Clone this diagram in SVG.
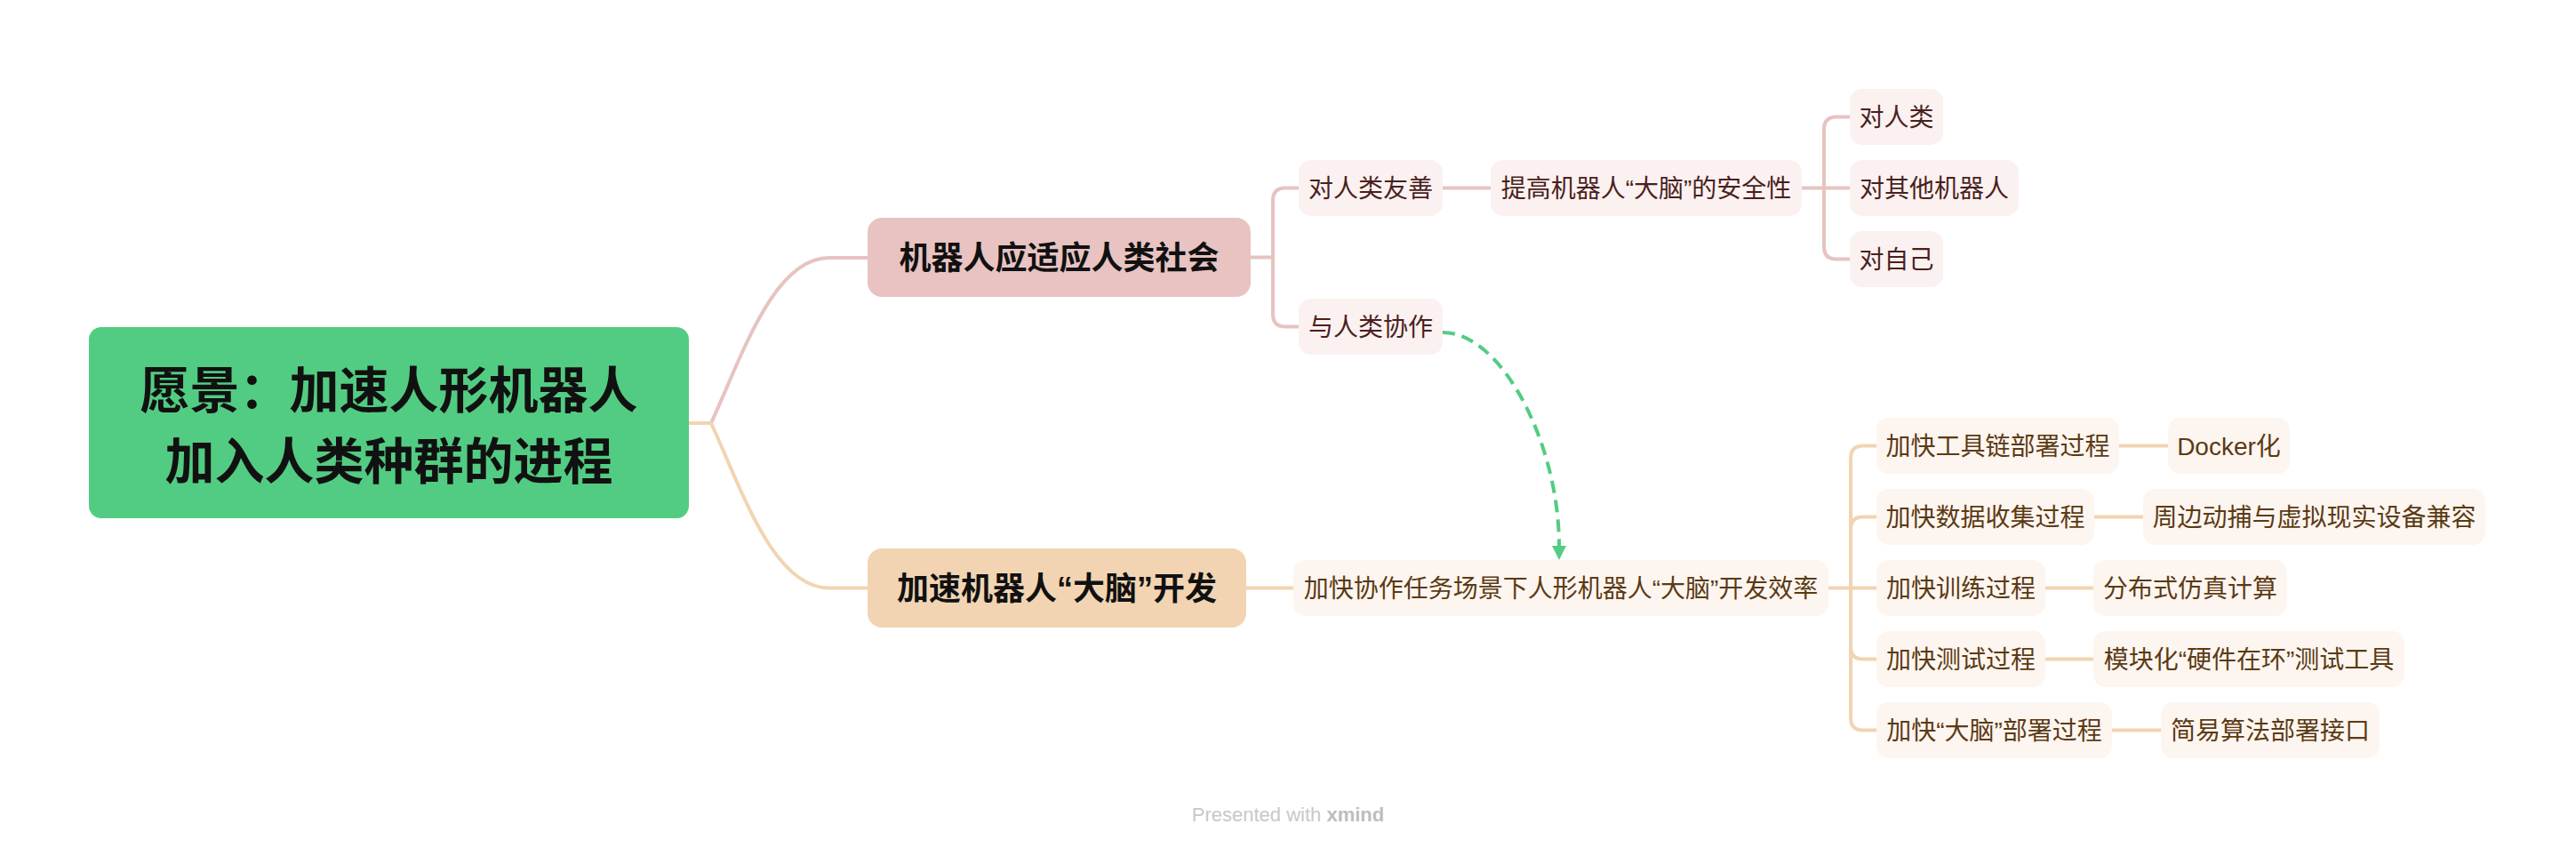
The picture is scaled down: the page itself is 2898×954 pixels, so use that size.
<svg xmlns="http://www.w3.org/2000/svg" width="2898" height="954" viewBox="0 0 2898 954">
<style>
text{font-family:"Liberation Sans","Noto Sans CJK SC",sans-serif;text-anchor:middle}
.root rect{fill:#52CC82}
.root text{font-size:56px;font-weight:bold;fill:#111111}
.b1 rect{fill:#E8C3C1}
.b2 rect{fill:#F2D4B2}
.main text{font-size:36px;font-weight:bold;fill:#111111}
.sp rect{fill:#FAF1F0}
.sp text{font-size:28px;fill:#4A1F1E}
.so rect{fill:#FDF5EF}
.so text{font-size:28px;fill:#5B3A14}
.lp{fill:none;stroke:#E6C3C1;stroke-width:4;stroke-linecap:round}
.lo{fill:none;stroke:#F2D4B2;stroke-width:4;stroke-linecap:round}
.rel{fill:none;stroke:#52CC82;stroke-width:4;stroke-dasharray:14 8}
.wm{font-size:22px;fill:#C8C8C8}
</style>
<defs>
<marker id="ah" markerUnits="userSpaceOnUse" markerWidth="16" markerHeight="16" refX="0" refY="8" orient="auto" viewBox="0 0 16 16">
<path d="M0,0 L16,8 L0,16 z" fill="#52CC82"/>
</marker>
</defs>
<rect width="2898" height="954" fill="#FFFFFF"/>
<g id="connectors">
<path class="lo" d="M775 476 H800"/>
<path class="lp" d="M800 476 C835 400 870 290 933 290 H976"/>
<path class="lo" d="M800 476 C835 552 870 661.5 933 661.5 H976"/>
<path class="lp" d="M1407 289.5 H1432 V225.5 Q1432 211.5 1446 211.5 H1461"/>
<path class="lp" d="M1432 289.5 V353.5 Q1432 367.5 1446 367.5 H1461"/>
<path class="lp" d="M1623 211.5 H1677"/>
<path class="lp" d="M2027 211.5 H2081"/>
<path class="lp" d="M2052 211.5 V145.5 Q2052 131.5 2066 131.5 H2081"/>
<path class="lp" d="M2052 211.5 V277.5 Q2052 291.5 2066 291.5 H2081"/>
<path class="lo" d="M1402 661.5 H1455"/>
<path class="lo" d="M2057 661.5 H2111"/>
<path class="lo" d="M2082 661.5 V515.5 Q2082 501.5 2096 501.5 H2111"/>
<path class="lo" d="M2082 661.5 V595.5 Q2082 581.5 2096 581.5 H2111"/>
<path class="lo" d="M2082 661.5 V727.5 Q2082 741.5 2096 741.5 H2111"/>
<path class="lo" d="M2082 661.5 V807.5 Q2082 821.5 2096 821.5 H2111"/>
<path class="lo" d="M2384 501.5 H2439"/>
<path class="lo" d="M2356 581.5 H2411"/>
<path class="lo" d="M2301 661.5 H2355"/>
<path class="lo" d="M2301 741.5 H2355"/>
<path class="lo" d="M2376 821.5 H2431"/>
<path class="rel" d="M1623 374 C1690 374 1754 500 1754 614" marker-end="url(#ah)"/>
</g>
<g id="root" class="root">
<rect x="100" y="368" width="675" height="215" rx="14"/>
<text x="437.5" y="459.3">愿景：加速人形机器人</text>
<text x="437.5" y="538.8">加入人类种群的进程</text>
</g>
<g id="branch1" class="main b1">
<rect x="976" y="245" width="431" height="89" rx="16"/>
<text x="1191.5" y="303.2">机器人应适应人类社会</text>
</g>
<g id="branch2" class="main b2">
<rect x="976" y="617" width="426" height="89" rx="16"/>
<text x="1189" y="675.2">加速机器人“大脑”开发</text>
</g>
<g id="n-friendly" class="sp">
<rect x="1461" y="180" width="162" height="63" rx="14"/>
<text x="1542" y="222.1">对人类友善</text>
</g>
<g id="n-collab" class="sp">
<rect x="1461" y="336" width="162" height="63" rx="14"/>
<text x="1542" y="378.1">与人类协作</text>
</g>
<g id="n-safety" class="sp">
<rect x="1677" y="180" width="350" height="63" rx="14"/>
<text x="1852" y="222.1">提高机器人“大脑”的安全性</text>
</g>
<g id="n-human" class="sp">
<rect x="2081" y="100" width="105" height="63" rx="14"/>
<text x="2133.5" y="142.1">对人类</text>
</g>
<g id="n-robots" class="sp">
<rect x="2081" y="180" width="190" height="63" rx="14"/>
<text x="2176" y="222.1">对其他机器人</text>
</g>
<g id="n-self" class="sp">
<rect x="2081" y="260" width="105" height="63" rx="14"/>
<text x="2133.5" y="302.1">对自己</text>
</g>
<g id="n-efficiency" class="so">
<rect x="1455" y="630" width="602" height="63" rx="14"/>
<text x="1756" y="672.1">加快协作任务场景下人形机器人“大脑”开发效率</text>
</g>
<g id="n-toolchain" class="so">
<rect x="2111" y="470" width="273" height="63" rx="14"/>
<text x="2247.5" y="512.1">加快工具链部署过程</text>
</g>
<g id="n-docker" class="so">
<rect x="2439" y="470" width="137" height="63" rx="14"/>
<text x="2507.5" y="512.1">Docker化</text>
</g>
<g id="n-data" class="so">
<rect x="2111" y="550" width="245" height="63" rx="14"/>
<text x="2233.5" y="592.1">加快数据收集过程</text>
</g>
<g id="n-mocap" class="so">
<rect x="2411" y="550" width="385" height="63" rx="14"/>
<text x="2603.5" y="592.1">周边动捕与虚拟现实设备兼容</text>
</g>
<g id="n-train" class="so">
<rect x="2111" y="630" width="190" height="63" rx="14"/>
<text x="2206" y="672.1">加快训练过程</text>
</g>
<g id="n-sim" class="so">
<rect x="2355" y="630" width="218" height="63" rx="14"/>
<text x="2464" y="672.1">分布式仿真计算</text>
</g>
<g id="n-test" class="so">
<rect x="2111" y="710" width="190" height="63" rx="14"/>
<text x="2206" y="752.1">加快测试过程</text>
</g>
<g id="n-hil" class="so">
<rect x="2355" y="710" width="350" height="63" rx="14"/>
<text x="2530" y="752.1">模块化“硬件在环”测试工具</text>
</g>
<g id="n-deploy" class="so">
<rect x="2111" y="790" width="265" height="63" rx="14"/>
<text x="2243.5" y="832.1">加快“大脑”部署过程</text>
</g>
<g id="n-api" class="so">
<rect x="2431" y="790" width="246" height="63" rx="14"/>
<text x="2554" y="832.1">简易算法部署接口</text>
</g>
<text class="wm" x="1449" y="924">Presented with <tspan font-weight="bold" fill="#BDBDBD">xmind</tspan></text>
</svg>
